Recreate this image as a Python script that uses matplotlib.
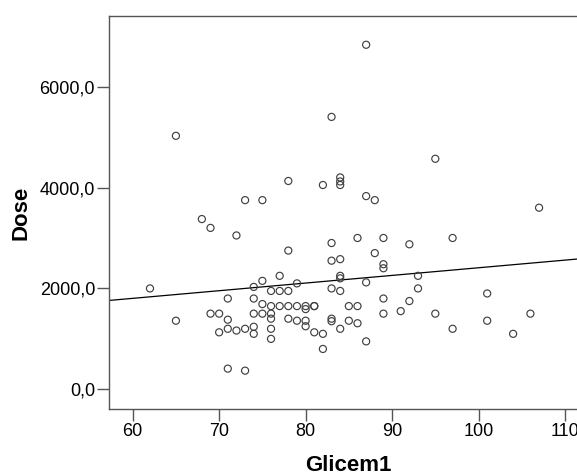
import numpy as np
import matplotlib
matplotlib.use('Agg')
import matplotlib.pyplot as plt
from matplotlib.ticker import FuncFormatter

plt.rcParams['font.family'] = ['Liberation Sans', 'DejaVu Sans']

# Glicem1 vs Dose
glicem1 = [62, 65, 65, 68, 69, 69, 70, 70, 71, 71, 71, 71, 72, 72, 73, 73, 73,
           74, 74, 74, 74, 74, 75, 75, 75, 75, 76, 76, 76, 76, 76, 76, 77, 77, 77,
           78, 78, 78, 78, 78, 79, 79, 79, 80, 80, 80, 80, 81, 81, 81, 82, 82, 82,
           83, 83, 83, 83, 83, 83, 84, 84, 84, 84, 84, 84, 84, 84, 85, 85, 86, 86,
           86, 87, 87, 87, 87, 88, 88, 89, 89, 89, 89, 89, 91, 92, 92, 93, 93, 95,
           95, 97, 97, 101, 101, 104, 106, 107]
dose = [2000, 5025, 1360, 3375, 3200, 1500, 1500, 1130, 1800, 1380, 1200, 410,
        3050, 1165, 3750, 1200, 370, 2030, 1800, 1500, 1240, 1100, 3750, 2150,
        1690, 1500, 1950, 1650, 1500, 1400, 1200, 1000, 2250, 1950, 1650, 4130,
        2750, 1950, 1650, 1400, 2100, 1650, 1360, 1650, 1590, 1360, 1250, 1650,
        1650, 1130, 4050, 1100, 800, 5400, 2900, 2550, 2000, 1400, 1350, 4200,
        4120, 4050, 2580, 2250, 2200, 1950, 1200, 1650, 1360, 3000, 1650, 1310,
        6830, 3830, 2120, 950, 3750, 2700, 3000, 2480, 2400, 1800, 1500, 1550,
        2875, 1750, 2250, 2000, 4570, 1500, 3000, 1200, 1900, 1360, 1100, 1500,
        3600]

x_ticks = [60, 70, 80, 90, 100, 110]
y_ticks = [0, 2000, 4000, 6000]

x = np.array(glicem1, dtype=float)
y = np.array(dose, dtype=float)

fig = plt.figure(figsize=(5.77, 4.75), dpi=100)
# axes run past the right edge, as in the original export
ax = fig.add_axes([109 / 577, 66 / 475, 479 / 577, 393 / 475])

ax.scatter(x, y, s=26, facecolors='none', edgecolors='#404040', linewidths=0.85, zorder=3)

# linear fit line over the full x range
slope, intercept = np.polyfit(x, y, 1)
xl = np.array([57.26, 112.66])
ax.plot(xl, intercept + slope * xl, color='black', lw=0.9, zorder=2)

ax.set_xlim(57.26, 112.66)
ax.set_ylim(-390, 7400)
ax.set_xticks(x_ticks)
ax.set_yticks(y_ticks)
ax.yaxis.set_major_formatter(FuncFormatter(lambda v, p: f'{v:.1f}'.replace('.', ',')))

for s in ax.spines.values():
    s.set_color('#555555')
    s.set_linewidth(1.0)
ax.tick_params(axis='both', direction='out', length=8.5, width=1.0, color='#555555',
               labelsize=13, pad=1.5)

ax.set_xlabel('Glicem1', fontsize=16, fontweight='bold', labelpad=11)
ax.set_ylabel('Dose', fontsize=16, fontweight='bold', labelpad=6)

fig.savefig('out.png', dpi=100)
